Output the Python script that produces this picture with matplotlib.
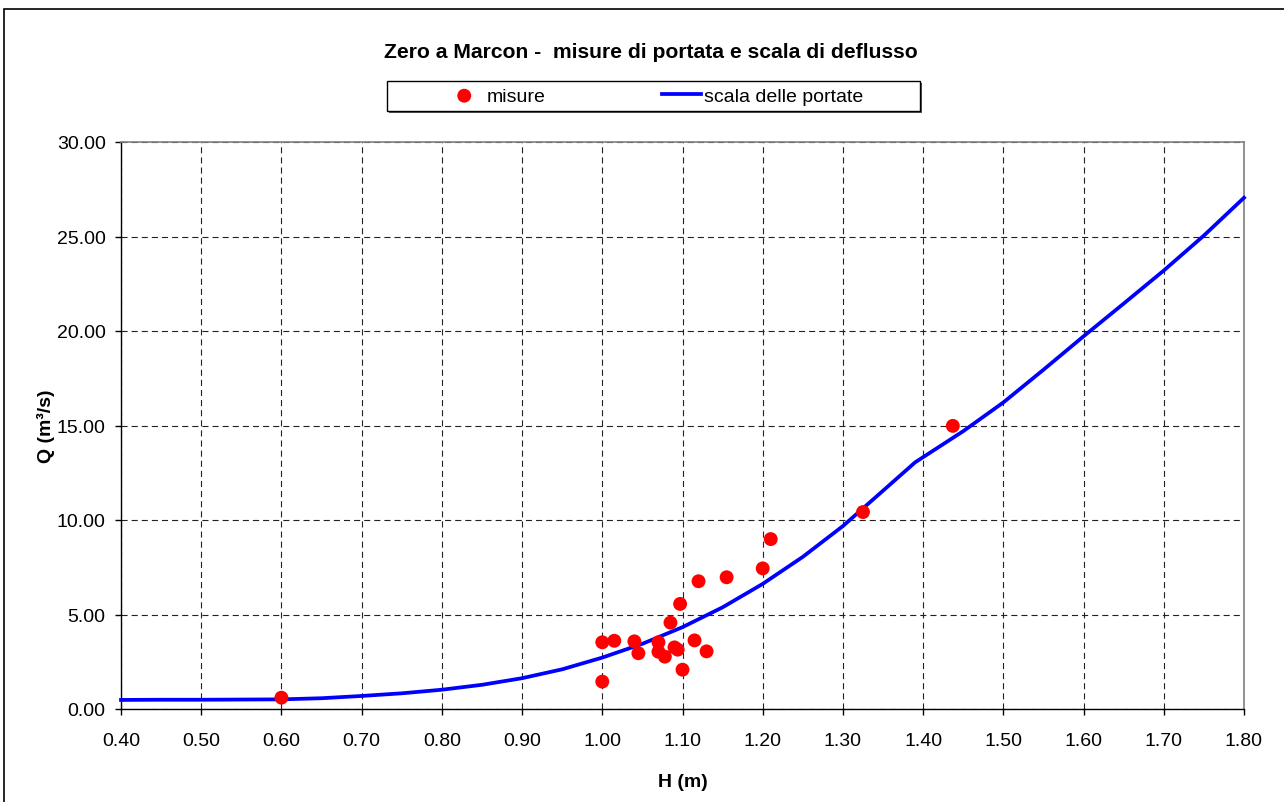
import matplotlib
matplotlib.use("Agg")
import matplotlib.pyplot as plt
from matplotlib.patches import Rectangle

# measured discharges
h_mis = [0.60, 1.00, 1.00, 1.015, 1.04, 1.045, 1.07, 1.07, 1.078, 1.085, 1.09,
         1.094, 1.097, 1.10, 1.115, 1.12, 1.13, 1.155, 1.20, 1.21, 1.325, 1.437]
q_mis = [0.60, 3.53, 1.45, 3.61, 3.58, 2.95, 3.53, 3.03, 2.77, 4.57, 3.26,
         3.14, 5.56, 2.08, 3.63, 6.76, 3.05, 6.97, 7.44, 8.99, 10.42, 14.98]

# rating curve
h_scala = [0.40, 0.45, 0.50, 0.55, 0.60, 0.65, 0.70, 0.75, 0.80, 0.85, 0.90, 0.95,
           1.00, 1.05, 1.10, 1.15, 1.20, 1.25, 1.30, 1.35, 1.39, 1.45, 1.50, 1.55,
           1.60, 1.65, 1.70, 1.75, 1.80]
q_scala = [0.48, 0.49, 0.49, 0.50, 0.51, 0.57, 0.69, 0.83, 1.02, 1.28, 1.63, 2.10,
           2.72, 3.45, 4.33, 5.38, 6.62, 8.05, 9.68, 11.55, 13.05, 14.70, 16.22, 17.95,
           19.72, 21.45, 23.20, 25.05, 27.05]

x_ticks = [0.40, 0.50, 0.60, 0.70, 0.80, 0.90, 1.00, 1.10, 1.20, 1.30, 1.40, 1.50, 1.60, 1.70, 1.80]
y_ticks = [0, 5, 10, 15, 20, 25, 30]

title = "Zero a Marcon -  misure di portata e scala di deflusso"

plt.rcParams['font.family'] = ['Liberation Sans', 'DejaVu Sans']

W, H = 1284, 803
fig = plt.figure(figsize=(W / 100, H / 100), dpi=100)
fig.patch.set_facecolor('white')

# outer chart border
fig.patches.append(Rectangle((4 / W, -0.1), 1.2, 1 - 10 / H + 0.1, transform=fig.transFigure,
                             fill=False, edgecolor='black', linewidth=1.2, zorder=0))

ax = fig.add_axes([121 / W, 1 - 710 / H, (1244 - 121) / W, (710 - 143) / H])
ax.set_xlim(0.40, 1.80)
ax.set_ylim(0, 30)
ax.set_xticks(x_ticks)
ax.set_xticklabels([f"{v:.2f}" for v in x_ticks])
ax.set_yticks(y_ticks)
ax.set_yticklabels([f"{v:.2f}" for v in y_ticks])

ax.grid(True, color='#222222', linestyle=(0, (5.5, 3.6)), linewidth=0.8)
ax.set_axisbelow(True)

for s in ['top', 'right']:
    ax.spines[s].set_color('#808080')
    ax.spines[s].set_linewidth(1.2)
for s in ['left', 'bottom']:
    ax.spines[s].set_color('black')
    ax.spines[s].set_linewidth(1.0)

ax.tick_params(axis='x', direction='out', length=4, width=1, pad=12.8, labelsize=14)
ax.tick_params(axis='y', direction='out', length=4, width=1, pad=7, labelsize=14)

line, = ax.plot(h_scala, q_scala, color='#0000FF', linewidth=2.7, zorder=3,
                label='scala delle portate', clip_on=False)
pts = ax.scatter(h_mis, q_mis, s=100, color='#FF0000', edgecolors='none', zorder=4,
                 label='misure')

fig.text(46 / W, 1 - 426 / H, "Q (m³/s)", rotation=90, ha='center', va='center',
         fontsize=14, fontweight='bold')
fig.text(683 / W, 1 - 783 / H, "H (m)", ha='center', va='center',
         fontsize=14, fontweight='bold')
fig.text(651 / W, 1 - 57.5 / H, title, ha='center', va='baseline',
         fontsize=15.2, fontweight='bold')

# legend box with shadow
bx, by, bw, bh = 387 / W, 1 - 112 / H, (920 - 387) / W, (112 - 82) / H
fig.patches.append(Rectangle((bx + 2 / W, by - 2 / H), bw, bh, transform=fig.transFigure,
                             facecolor='#555555', edgecolor='none', zorder=1))
fig.patches.append(Rectangle((bx, by), bw, bh, transform=fig.transFigure,
                             facecolor='white', edgecolor='black', linewidth=1.0, zorder=2))

leg = fig.legend([pts, line], ['misure', 'scala delle portate'], loc='center',
                 bbox_to_anchor=(654 / W, 1 - 97 / H), ncol=2, frameon=False,
                 fontsize=14, handlelength=2.0, handletextpad=0.15, columnspacing=6.0,
                 borderpad=0.2, scatterpoints=1)
leg.set_zorder(5)

fig.savefig("out.png", dpi=100)
